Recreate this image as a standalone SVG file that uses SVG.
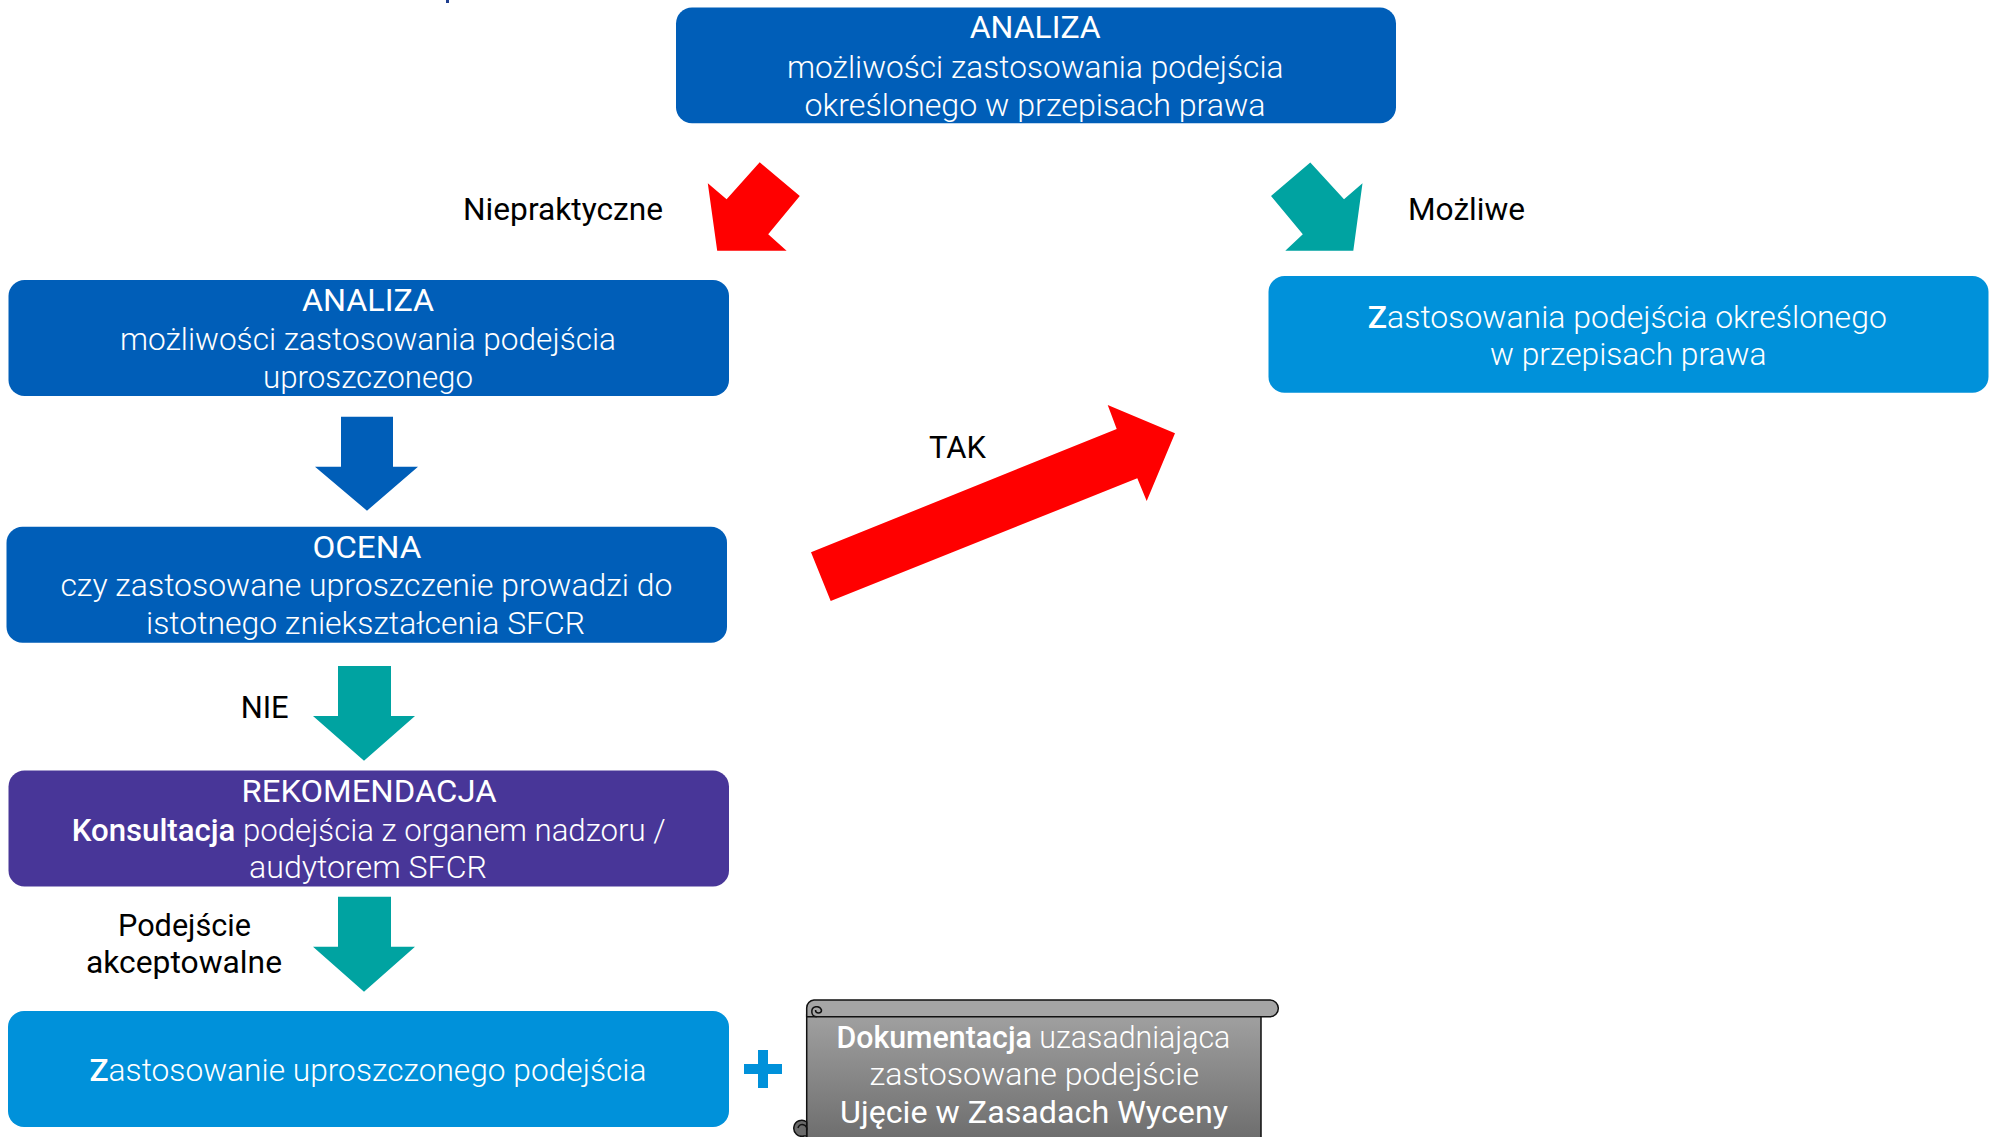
<svg xmlns="http://www.w3.org/2000/svg" width="1995" height="1137" viewBox="0 0 1995 1137">
<style>
.box text{font-family:Roboto,"Liberation Sans",sans-serif;font-weight:300;font-size:31px;fill:#fff}
.box text.t{font-weight:400}
.lbl{font-family:Roboto,"Liberation Sans",sans-serif;font-weight:400;font-size:31px;fill:#000}
.b{font-weight:500}
.dk{fill:#005EB8}
.lt{fill:#0091DA}
.pu{fill:#483698}
.tl{fill:#00A3A1}
.rd{fill:#FF0000}
.scroll text{font-family:Roboto,"Liberation Sans",sans-serif;font-weight:300;font-size:31px;fill:#fff}
.scroll text.r{font-weight:400}
</style>
<defs>
<linearGradient id="gr" x1="0" y1="0" x2="0" y2="1">
<stop offset="0" stop-color="#a3a3a3"/>
<stop offset="1" stop-color="#6a6a6a"/>
</linearGradient>
</defs>
<rect x="446" y="0" width="3" height="3" fill="#1f3f8f"/>
<g id="connectors">
<polygon class="rd" points="759.7,162.3 799.8,196 768.2,234.3 786.6,250.7 717.2,250.7 707.8,183.3 726.6,199.3"/>
<polygon class="tl" points="1310.3,162.5 1271,196 1302.8,234.3 1285.3,250.7 1353.3,250.7 1362.5,183.3 1344,199.3"/>
<polygon class="dk" points="341,416.7 393,416.7 393,466.7 418,466.7 367,510.7 315,466.7 341,466.7"/>
<polygon class="tl" points="338,666 391,666 391,716 415,716 364,760.7 313,716 338,716"/>
<polygon class="tl" points="338,896.7 391,896.7 391,946.7 415,946.7 364,991.7 313,946.7 338,946.7"/>
<polygon class="rd" points="830.7,601 811,552.3 1116.7,429 1107.7,405 1175,433.3 1146.7,501 1137.3,478.3"/>
<text class="lbl" x="463" y="219.5" textLength="200" lengthAdjust="spacingAndGlyphs">Niepraktyczne</text>
<text class="lbl" x="1408" y="219.5" textLength="117" lengthAdjust="spacingAndGlyphs">Możliwe</text>
<text class="lbl" x="929" y="458.3" textLength="57" lengthAdjust="spacingAndGlyphs">TAK</text>
<text class="lbl" x="240.7" y="718.3" textLength="48" lengthAdjust="spacingAndGlyphs">NIE</text>
<text class="lbl" x="118" y="936" textLength="133" lengthAdjust="spacingAndGlyphs">Podejście</text>
<text class="lbl" x="86" y="973" textLength="196" lengthAdjust="spacingAndGlyphs">akceptowalne</text>
</g>
<g id="n-analiza-top" class="box">
<rect class="dk" x="676" y="7.5" width="720" height="115.8" rx="16"/>
<text class="t" x="969.7" y="38" textLength="131" lengthAdjust="spacingAndGlyphs">ANALIZA</text>
<text x="787" y="77.5" textLength="496.5" lengthAdjust="spacingAndGlyphs">możliwości zastosowania podejścia</text>
<text x="804.5" y="115.5" textLength="461" lengthAdjust="spacingAndGlyphs">określonego w przepisach prawa</text>
</g>
<g id="n-prawo" class="box">
<rect class="lt" x="1268.5" y="276" width="720" height="116.7" rx="16"/>
<text x="1367.8" y="327.5" textLength="519" lengthAdjust="spacingAndGlyphs"><tspan class="b">Z</tspan>astosowania podejścia określonego</text>
<text x="1490" y="365" textLength="276.5" lengthAdjust="spacingAndGlyphs">w przepisach prawa</text>
</g>
<g id="n-analiza-upr" class="box">
<rect class="dk" x="8.5" y="280" width="720.5" height="116" rx="16"/>
<text class="t" x="302" y="311" textLength="132" lengthAdjust="spacingAndGlyphs">ANALIZA</text>
<text x="120" y="349.5" textLength="496" lengthAdjust="spacingAndGlyphs">możliwości zastosowania podejścia</text>
<text x="263" y="388" textLength="210" lengthAdjust="spacingAndGlyphs">uproszczonego</text>
</g>
<g id="n-ocena" class="box">
<rect class="dk" x="6.5" y="526.7" width="720.5" height="116" rx="16"/>
<text class="t" x="312.4" y="557.5" textLength="109" lengthAdjust="spacingAndGlyphs">OCENA</text>
<text x="60.4" y="596" textLength="612" lengthAdjust="spacingAndGlyphs">czy zastosowane uproszczenie prowadzi do</text>
<text x="146" y="633.7" textLength="439" lengthAdjust="spacingAndGlyphs">istotnego zniekształcenia SFCR</text>
</g>
<g id="n-rekomendacja" class="box">
<rect class="pu" x="8.5" y="770.5" width="720.5" height="116" rx="16"/>
<text class="t" x="241.6" y="801.7" textLength="255" lengthAdjust="spacingAndGlyphs">REKOMENDACJA</text>
<text x="71.7" y="840.5" textLength="594" lengthAdjust="spacingAndGlyphs"><tspan class="b">Konsultacja</tspan> podejścia z organem nadzoru /</text>
<text x="249" y="878.2" textLength="238" lengthAdjust="spacingAndGlyphs">audytorem SFCR</text>
</g>
<g id="n-uproszczone" class="box">
<rect class="lt" x="8" y="1011" width="721" height="116" rx="16"/>
<text x="89.5" y="1081" textLength="557" lengthAdjust="spacingAndGlyphs"><tspan class="b">Z</tspan>astosowanie uproszczonego podejścia</text>
</g>
<g id="plus" class="lt">
<rect x="758" y="1050" width="10" height="38"/>
<rect x="744" y="1064" width="38" height="10"/>
</g>
<g id="n-dokumentacja" class="scroll">
<rect x="806.7" y="1008" width="454.3" height="140" rx="6" fill="url(#gr)" stroke="#111" stroke-width="1.5"/>
<path d="M814,1000 H1270 A8.3,8.3 0 0 1 1270,1016.7 H806.7 V1008 A8,8 0 0 1 814,1000 Z" fill="#a5a5a5" stroke="#111" stroke-width="1.5"/>
<path d="M816.7,1016.7 A5,5 0 1 1 821.5,1010 A3,3 0 0 1 815.5,1010" fill="none" stroke="#111" stroke-width="1.5"/>
<path d="M806.7,1122 A8,8 0 1 0 804,1136 H806.7 Z" fill="#6a6a6a" stroke="#111" stroke-width="1.5"/>
<path d="M806.7,1130 A4,4 0 0 0 798,1128" fill="none" stroke="#111" stroke-width="1.5"/>
<text x="836.4" y="1048" textLength="394" lengthAdjust="spacingAndGlyphs"><tspan class="b">Dokumentacja</tspan> uzasadniająca</text>
<text x="869.5" y="1085" textLength="329.5" lengthAdjust="spacingAndGlyphs">zastosowane podejście</text>
<text class="r" x="840" y="1123" textLength="388" lengthAdjust="spacingAndGlyphs">Ujęcie w Zasadach Wyceny</text>
</g>
</svg>
